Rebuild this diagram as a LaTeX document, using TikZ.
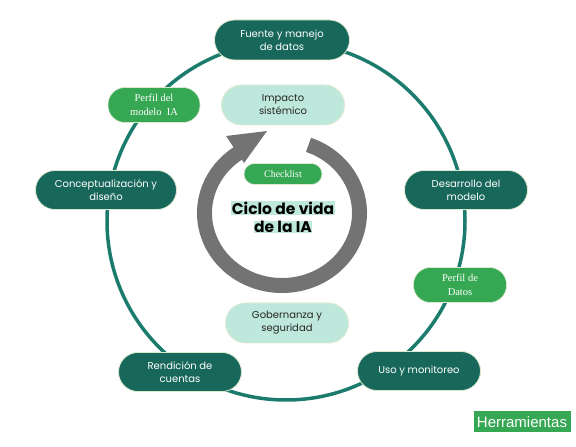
\documentclass[tikz,border=0pt]{standalone}
\usepackage{fontspec}
\setmainfont{Poppins}
\newfontfamily\serifnote{Liberation Serif}
\newfontfamily\arialnote{Liberation Sans}
\definecolor{tealdark}{HTML}{17675B}
\definecolor{tealring}{HTML}{1B7B6D}
\definecolor{mint}{HTML}{BFE8DC}
\definecolor{leaf}{HTML}{36A854}
\definecolor{ringgrey}{HTML}{737373}
\definecolor{rim}{HTML}{DCE8CF}
\tikzset{
  stage/.style={draw=rim, line width=0.8pt, fill=tealdark, text=white, rounded corners=19.5pt,
    minimum width=#1, minimum height=39pt, align=center, inner sep=1pt,
    font=\fontsize{10}{13}\selectfont},
  stage/.default=123pt,
  theme/.style={draw=rim, line width=0.8pt, fill=mint, text=black!85, rounded corners=20pt,
    minimum width=123pt, minimum height=40pt, align=center, inner sep=1pt,
    font=\fontsize{10}{13}\selectfont},
  tool/.style={fill=leaf, text=white, rounded corners=17pt, draw=rim, line width=0.6pt,
    minimum width=#1, minimum height=35pt, align=center, inner sep=1pt,
    font=\serifnote\fontsize{10.5}{14.5}\selectfont},
  tool/.default=93pt,
  title/.style={fill=mint, inner sep=0.6pt, text=black, font=\bfseries\fontsize{15.5}{18}\selectfont}
}

\begin{document}
\begin{tikzpicture}[x=1pt,y=1pt]
            \useasboundingbox (0,0) rectangle (576,447);

            % Outer lifecycle ring
            \draw[tealring, line width=3.5pt] (286,226) circle[radius=179];

            % Grey cycle arrow
            \draw[ringgrey, line width=15pt] (282,234) ++(70:77.5 and 72.5)
                arc[start angle=70, end angle=-236, x radius=77.5, y radius=72.5];
            \fill[ringgrey] (267,316) -- (226,311) -- (244,284) -- cycle;

            % Centre title
            \node[title] (ciclo1) at (283,239) {Ciclo de vida};
            \node[title] (ciclo2) at (283,220) {de la IA};
            \node[tool=78pt, minimum height=21pt, rounded corners=10.5pt, font=\serifnote\fontsize{10}{12}\selectfont] (checklist) at (283,273) {Checklist};

            % Stages on the ring
            \node[stage=135pt, minimum height=40pt, rounded corners=20pt] (fuente) at (282,407) {Fuente y manejo\\de datos};
            \node[stage] (desarrollo) at (466,257) {Desarrollo del\\modelo};
            \node[stage] (uso) at (419,76) {Uso y monitoreo};
            \node[stage] (rendicion) at (180,75) {Rendición de\\cuentas};
            \node[stage=141pt] (concepto) at (106,257) {Conceptualización y\\diseño};

            % Cross-cutting themes
            \node[theme] (impacto) at (283,342) {Impacto\\sistémico};
            \node[theme] (gobernanza) at (287,124) {Gobernanza y\\seguridad};

            % Tools
            \node[tool=92pt] (perfilIA) at (154,342) {Perfil del\\modelo\ \ IA};
            \node[tool] (perfilDatos) at (460,162) {Perfil de\\Datos};

            % Legend
            \node[fill=leaf, text=white, minimum width=97pt, minimum height=21pt, inner sep=0pt,
                font=\arialnote\fontsize{15}{17}\selectfont] (herramientas) at (522,25) {Herramientas};
        \end{tikzpicture}
\end{document}
